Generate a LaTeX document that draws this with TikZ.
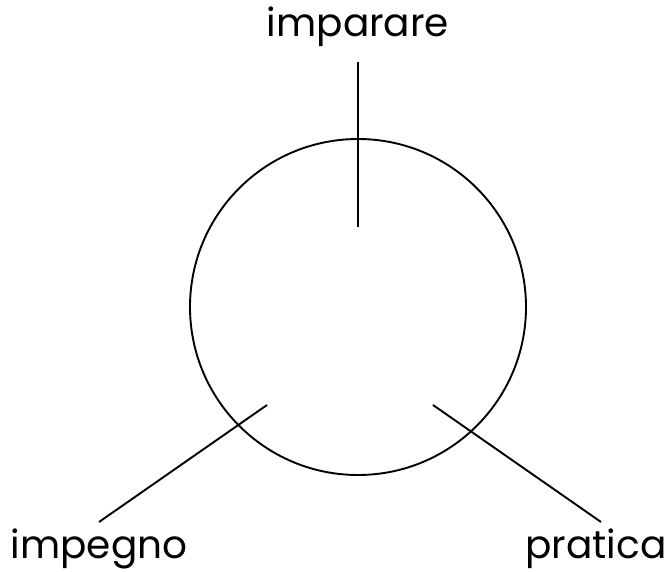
\documentclass[tikz,border=0pt]{standalone}
\usepackage{fontspec}
\setmainfont{Poppins}
\begin{document}
\begin{tikzpicture}[x=1pt,y=-1pt,
  lbl/.style={font=\fontsize{39}{44}\selectfont, inner sep=0pt},
  ln/.style={line width=1.9pt}]
\useasboundingbox (0,0) rectangle (667,571);
\node[draw, circle, line width=1.9pt, minimum size=336pt, inner sep=0pt] (c) at (358,307) {};
\node[lbl] (top) at (358,27) {imparare};
\node[lbl] (left) at (99,549) {impegno};
\node[lbl] (right) at (596,549) {pratica};
\coordinate (t1) at (358,62);
\coordinate (t2) at (358,227);
\coordinate (l1) at (267,405);
\coordinate (l2) at (99,522);
\coordinate (r1) at (433,405);
\coordinate (r2) at (601,522);
\draw[ln] (t1) -- (t2);
\draw[ln] (l1) -- (l2);
\draw[ln] (r1) -- (r2);
\end{tikzpicture}
\end{document}
